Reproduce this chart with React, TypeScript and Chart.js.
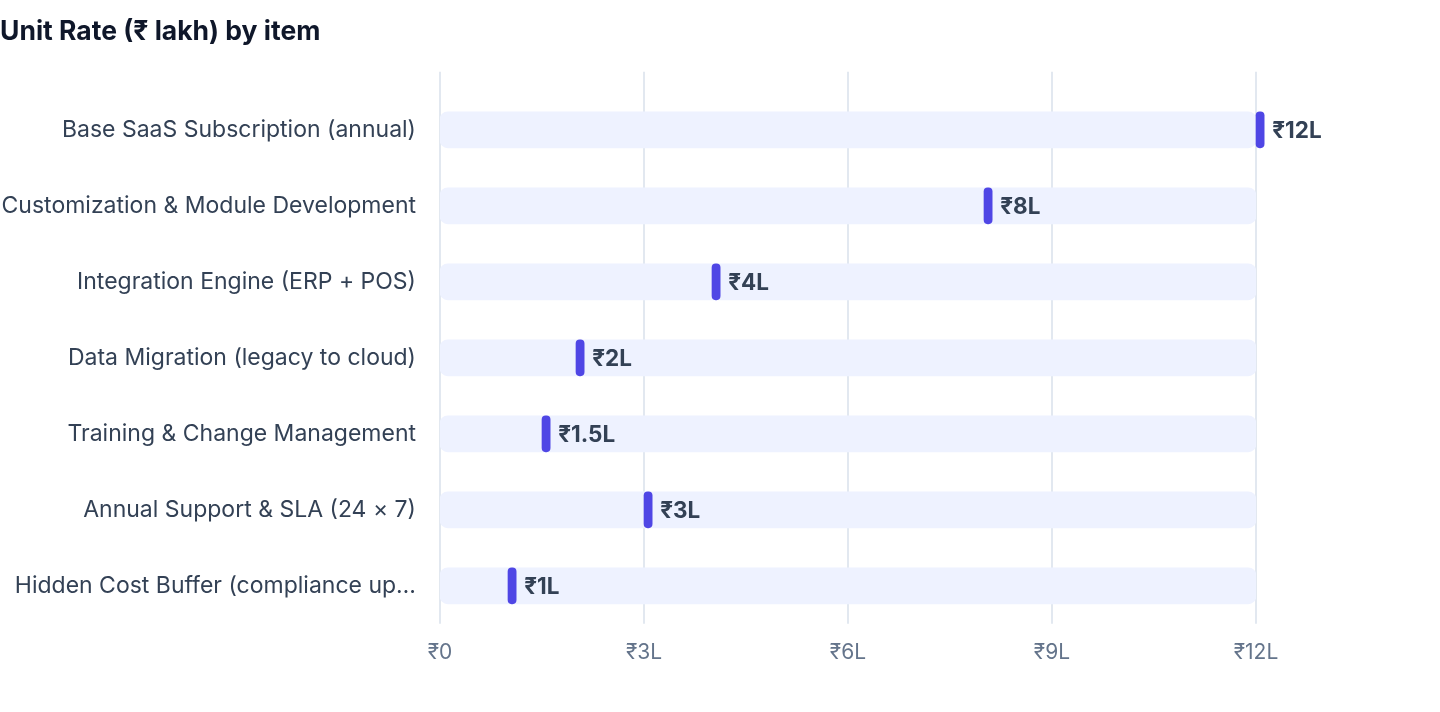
import React, { useEffect, useRef } from "react";
import { Chart, registerables } from "chart.js";

Chart.register(...registerables);

const categories = [
  "Base SaaS Subscription (annual)",
  "Customization & Module Development",
  "Integration Engine (ERP + POS)",
  "Data Migration (legacy to cloud)",
  "Training & Change Management",
  "Annual Support & SLA (24 × 7)",
  "Hidden Cost Buffer (compliance up…",
];
const values = [12, 8, 4, 2, 1.5, 3, 1];
const trackMax = 12;
const xTicks = [0, 3, 6, 9, 12];
const markerSpan = 0.12;

const FONT = "Inter, 'Noto Sans', sans-serif";

const gridPlugin = {
  id: "customGrid",
  beforeDatasetsDraw(chart: any) {
    const { ctx, chartArea, scales } = chart;
    ctx.save();
    ctx.strokeStyle = "#e2e8f0";
    ctx.lineWidth = 2;
    xTicks.forEach((t) => {
      const x = Math.round(scales.x.getPixelForValue(t));
      ctx.beginPath();
      ctx.moveTo(x, chartArea.top - 20);
      ctx.lineTo(x, chartArea.bottom);
      ctx.stroke();
    });
    ctx.restore();
  },
};

const labelPlugin = {
  id: "valueLabels",
  afterDatasetsDraw(chart: any) {
    const { ctx } = chart;
    const meta = chart.getDatasetMeta(1);
    ctx.save();
    ctx.font = `700 22.5px ${FONT}`;
    ctx.fillStyle = "#334155";
    ctx.textAlign = "left";
    ctx.textBaseline = "middle";
    meta.data.forEach((el: any, i: number) => {
      const { x, y } = el.getProps(["x", "y"], true);
      ctx.fillText(`₹${values[i]}L`, x + 8, y + 1);
    });
    ctx.restore();
  },
};

export default function App() {
  const ref = useRef<HTMLCanvasElement | null>(null);

  useEffect(() => {
    if (!ref.current) return;
    const chart = new Chart(ref.current, {
      type: "bar",
      data: {
        labels: categories,
        datasets: [
          {
            label: "track",
            data: categories.map(() => [0, trackMax]) as any,
            backgroundColor: "#eef2ff",
            borderRadius: 8,
            borderSkipped: false,
            barThickness: 36,
            grouped: false,
            order: 2,
          },
          {
            label: "Unit Rate",
            data: values.map((v) => [v, v + markerSpan]) as any,
            backgroundColor: "#4f46e5",
            borderRadius: 5,
            borderSkipped: false,
            barThickness: 36,
            grouped: false,
            order: 1,
            clip: false as any,
          },
        ],
      },
      options: {
        indexAxis: "y",
        animation: false,
        responsive: true,
        maintainAspectRatio: false,
        layout: { padding: { left: 0, right: 184, top: 0, bottom: 31 } },
        plugins: {
          legend: { display: false },
          tooltip: { enabled: false },
          title: {
            display: true,
            text: "Unit Rate (₹ lakh) by item",
            align: "start",
            color: "#0f172a",
            font: { family: FONT, size: 26.5, weight: "bold" },
            padding: { top: 16, bottom: 44 },
          },
        },
        scales: {
          x: {
            type: "linear",
            min: 0,
            max: trackMax,
            grid: { display: false, drawTicks: false },
            border: { display: false },
            ticks: {
              stepSize: 3,
              padding: 16,
              color: "#64748b",
              font: { family: FONT, size: 21 },
              callback: (v: any) => (Number(v) === 0 ? "₹0" : `₹${v}L`),
            },
          },
          y: {
            type: "category",
            grid: { display: false, drawTicks: false },
            border: { display: false },
            afterFit: (s: any) => {
              s.width = 440;
            },
            ticks: {
              autoSkip: false,
              padding: 24,
              color: "#334155",
              font: { family: FONT, size: 23 },
            },
          },
        },
      },
      plugins: [gridPlugin, labelPlugin],
    });
    return () => chart.destroy();
  }, []);

  return (
    <div style={{ position: "absolute", left: 0, top: 0, width: 1440, height: 712 }}>
      <canvas ref={ref} />
    </div>
  );
}
